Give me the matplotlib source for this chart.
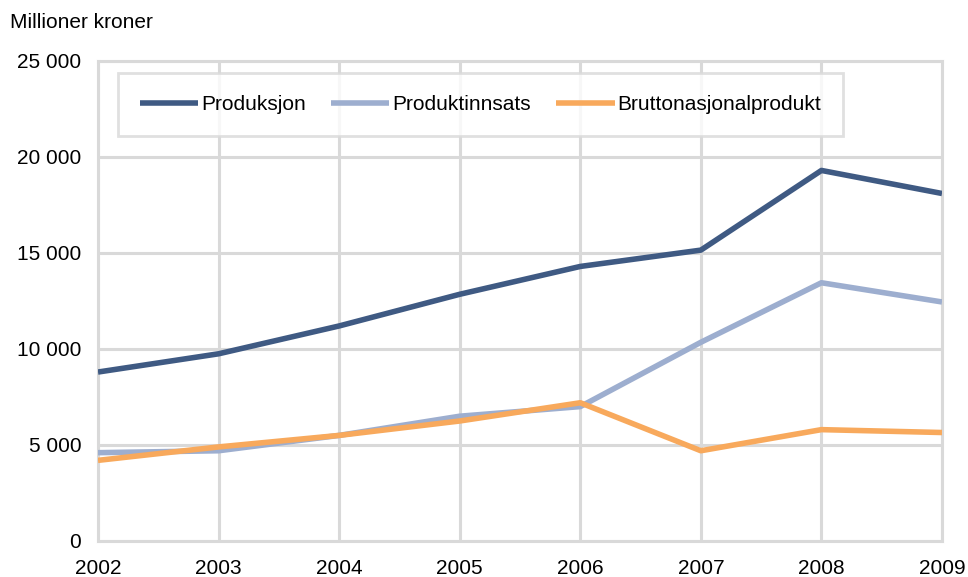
import matplotlib
matplotlib.use("Agg")
import matplotlib.pyplot as plt
from matplotlib.ticker import FuncFormatter

plt.rcParams['font.family'] = ['Liberation Sans', 'DejaVu Sans']

years = [2002, 2003, 2004, 2005, 2006, 2007, 2008, 2009]
produksjon = [8800, 9750, 11200, 12850, 14300, 15150, 19300, 18100]
produktinnsats = [4600, 4700, 5500, 6500, 7000, 10350, 13450, 12450]
bnp = [4200, 4900, 5500, 6250, 7200, 4700, 5800, 5650]

series = [
    ("Produksjon", produksjon, "#3f5a83"),
    ("Produktinnsats", produktinnsats, "#9daecf"),
    ("Bruttonasjonalprodukt", bnp, "#f8a95c"),
]

grid_color = "#d9d9d9"

fig = plt.figure(figsize=(9.68, 5.77), dpi=100)
ax = fig.add_axes([98 / 968, 1 - 541 / 577, (942 - 98) / 968, (541 - 61) / 577])

for name, vals, col in series:
    ax.plot(years, vals, color=col, linewidth=4.0, label=name,
            solid_capstyle='butt', zorder=3)

ax.set_xlim(2002, 2009)
ax.set_ylim(0, 25000)
ax.set_xticks(years)
ax.set_yticks(range(0, 25001, 5000))
ax.yaxis.set_major_formatter(FuncFormatter(lambda v, p: f"{int(v):,}".replace(",", " ")))
ax.grid(True, color=grid_color, linewidth=2.2, zorder=1)
ax.set_axisbelow(True)
for s in ax.spines.values():
    s.set_color(grid_color)
    s.set_linewidth(2.2)
ax.tick_params(axis='both', length=0, labelsize=15)
ax.tick_params(axis='y', pad=12)
ax.tick_params(axis='x', pad=13)

fig.text(10 / 968, 1 - 22 / 577, "Millioner kroner", fontsize=15, va='center', ha='left')

leg = ax.legend(loc='upper left', bbox_to_anchor=(118 / 968, 1 - 73 / 577),
                bbox_transform=fig.transFigure, ncol=3, fontsize=15,
                frameon=True, fancybox=False, borderaxespad=0, borderpad=1.05,
                handlelength=2.8, handletextpad=0.15, columnspacing=1.2)
leg.get_frame().set_edgecolor(grid_color)
leg.get_frame().set_linewidth(2.0)

fig.savefig("out.png", dpi=100)
